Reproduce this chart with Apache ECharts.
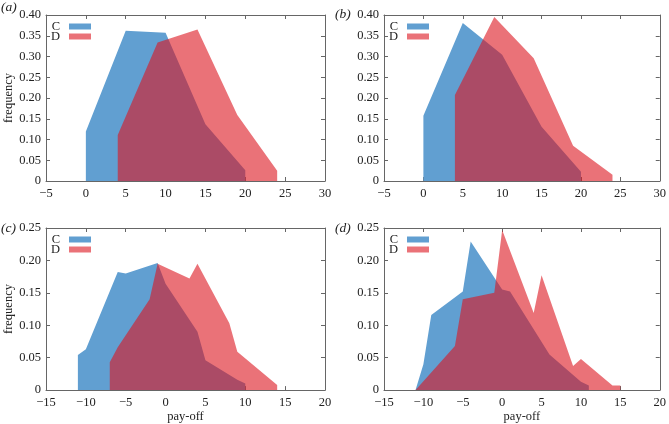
<!DOCTYPE html>
<html>
<head>
<meta charset="utf-8">
<script src="https://cdn.jsdelivr.net/npm/echarts@6/dist/echarts.min.js"></script>
<style>html,body{margin:0;padding:0;background:#fff}#c{width:669px;height:424px}</style>
</head>
<body>
<div id="c"></div>
<script>
// Panel (a)
var aC = [[0,0.119],[5,0.362],[10,0.357],[15,0.137],[20,0.026]];
var aD = [[4,0.111],[9,0.334],[14,0.365],[19,0.159],[24,0.025]];
// Panel (b)
var bC = [[0,0.157],[5,0.381],[10,0.304],[15,0.131],[20,0.022]];
var bD = [[4,0.207],[9,0.395],[14,0.296],[19,0.085],[24,0.015]];
// Panel (c)
var cC = [[-11,0.054],[-10,0.063],[-6,0.182],[-5,0.180],[-1,0.196],[0,0.164],[4,0.090],[5,0.046],[9,0.016],[10,0.010]];
var cD = [[-7,0.043],[-6,0.066],[-2,0.140],[-1,0.195],[3,0.172],[4,0.195],[8,0.103],[9,0.059],[14,0.008]];
// Panel (d)
var dC = [[-11,0.0],[-10,0.040],[-9,0.116],[-5,0.152],[-4,0.229],[0,0.155],[1,0.152],[6,0.055],[10,0.013],[11,0.007]];
var dD = [[-11,0.0],[-6,0.068],[-5,0.140],[-1,0.150],[0,0.247],[4,0.119],[5,0.177],[9,0.037],[10,0.048],[14,0.007],[15,0.007]];

var panelLabels = ['(a)','(b)','(c)','(d)'];
var xRanges = [[-5,30],[-5,30],[-15,20],[-15,20]];
var yMaxes = [0.40,0.40,0.25,0.25];
var seriesNames = ['C','D'];

var FONT = 'Liberation Serif';
var BLUE = '#619fd1';
var RED = 'rgba(220,20,30,0.6)';
var FRAME = '#666';
var TEXT = '#222';

var grids = [
  {left:46, top:15, width:279, height:166},
  {left:384, top:15, width:278, height:166},
  {left:46, top:228, width:279, height:165},
  {left:384, top:228, width:278, height:165}
];
var data = [[aC,aD],[bC,bD],[cC,cD],[dC,dD]];

var xAxes = [], yAxes = [], series = [], titles = [];
var titlePos = [[1,0],[335,7],[1,221],[335,221]];
for (var i = 0; i < 4; i++) {
  var common = {
    type:'value', gridIndex:i,
    axisLine:{show:true, onZero:false, lineStyle:{color:FRAME, width:1}},
    axisTick:{show:true, inside:true, length:4, lineStyle:{color:FRAME}},
    splitLine:{show:false}
  };
  xAxes.push(Object.assign({}, common, {
    position:'bottom', min:xRanges[i][0], max:xRanges[i][1], interval:5,
    axisLabel:{fontFamily:FONT, fontSize:12.5, color:TEXT, margin:6,
      formatter:function(v){return String(v).replace('-','\u2212');}},
    name: i>=2 ? 'pay-off' : '', nameLocation:'middle', nameGap:19,
    nameTextStyle:{fontFamily:FONT, fontSize:12.5, color:TEXT}
  }));
  xAxes.push(Object.assign({}, common, {
    position:'top', min:xRanges[i][0], max:xRanges[i][1], interval:5,
    axisLabel:{show:false}
  }));
  yAxes.push(Object.assign({}, common, {
    position:'left', min:0, max:yMaxes[i], interval:0.05,
    axisLabel:{fontFamily:FONT, fontSize:12.5, color:TEXT, margin:5,
      formatter:function(v){return v===0?'0':v.toFixed(2);}},
    name: (i%2===0) ? 'frequency' : '', nameLocation:'middle', nameGap:30,
    nameTextStyle:{fontFamily:FONT, fontSize:12.5, color:TEXT}
  }));
  yAxes.push(Object.assign({}, common, {
    position:'right', min:0, max:yMaxes[i], interval:0.05,
    axisLabel:{show:false}
  }));
  for (var s = 0; s < 2; s++) {
    series.push({
      type:'line', name:seriesNames[s], xAxisIndex:2*i, yAxisIndex:2*i,
      data:data[i][s], showSymbol:false, symbol:'none',
      color: s===0 ? BLUE : RED,
      lineStyle:{width:0, opacity:0},
      areaStyle:{color: s===0 ? BLUE : RED, opacity:1},
      z: 2+s, silent:true, animation:false
    });
  }
  titles.push({text:panelLabels[i], left:titlePos[i][0], top:titlePos[i][1], padding:0,
    textStyle:{fontFamily:FONT, fontStyle:'italic', fontWeight:'normal', fontSize:13.5, color:TEXT}});
}
var legPos = [[51,20],[389,20],[51,233],[389,233]];
var legends = legPos.map(function(p){
  return {
    data:[{name:'C', icon:'rect', itemStyle:{color:BLUE}},{name:'D', icon:'rect', itemStyle:{color:RED}}],
    orient:'vertical', align:'right', left:p[0], top:p[1], padding:0,
    itemWidth:22, itemHeight:6, itemGap:-3, selectedMode:false,
    textStyle:{fontFamily:FONT, fontSize:12.5, color:TEXT, lineHeight:10, padding:[0,4,0,0]}
  };
});

var chart = echarts.init(document.getElementById('c'), null, {renderer:'canvas'});
chart.setOption({
  animation:false,
  backgroundColor:'#fff',
  title:titles,
  grid:grids,
  xAxis:xAxes,
  yAxis:yAxes,
  legend:legends,
  series:series
});
</script>
</body>
</html>
